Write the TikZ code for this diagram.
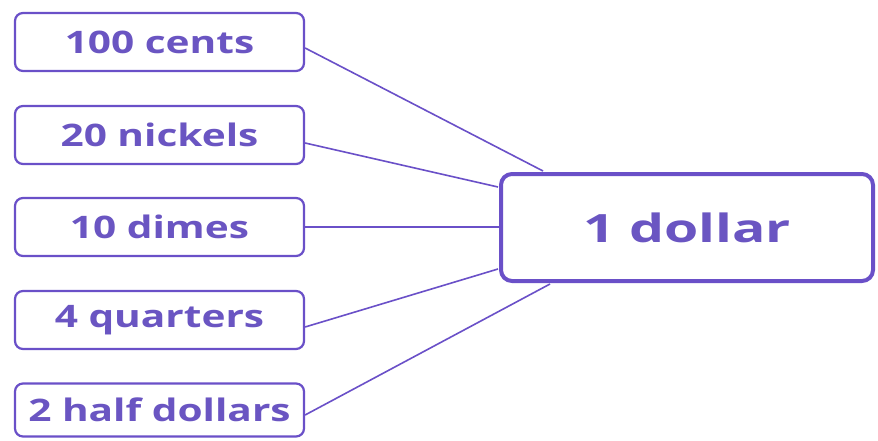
\documentclass[tikz,border=0pt]{standalone}
\usepackage{fontspec}
\setmainfont{Open Sans}
\newfontfamily\smallfont[FakeStretch=1.31]{Open Sans}
\newfontfamily\bigfont[FakeStretch=1.42]{Open Sans}
\usetikzlibrary{calc}
\definecolor{edgepurple}{HTML}{6A50C8}
\definecolor{textpurple}{HTML}{6A55C2}
\tikzset{
  smallbox/.style={draw=edgepurple, line width=2.2pt, rounded corners=8pt, fill=white,
    minimum width=289pt, minimum height=58pt, inner sep=0pt,
    text=textpurple, font=\smallfont\fontsize{31}{34}\selectfont\bfseries},
  bigbox/.style={draw=edgepurple, line width=4pt, rounded corners=11pt, fill=white,
    minimum width=372pt, minimum height=107pt, inner sep=0pt,
    text=textpurple, font=\bigfont\fontsize{39}{42}\selectfont\bfseries},
  link/.style={draw=edgepurple, line width=1.6pt}
}
\begin{document}
\begin{tikzpicture}[x=1pt,y=-1pt]
\useasboundingbox[fill=white] (0,0) rectangle (878,441);
\node[smallbox] (c1) at (159.5,42) {100 cents};
\node[smallbox] (c2) at (159.5,135) {20 nickels};
\node[smallbox] (c3) at (159.5,227) {10 dimes};
\node[smallbox] (c4) at (159.5,320) {4 quarters};
\node[smallbox, minimum height=53pt] (c5) at (159.5,410) {2 half dollars};
\node[bigbox] (big) at (687,227.5) {1 dollar};
\draw[link] ($(c1.east)+(0,6)$) -- ($(big.north west)+(44,-1)$);
\draw[link] ($(c2.east)+(0,8)$) -- ($(big.north west)+(-1,15)$);
\draw[link] (c3.east) -- (c3.east -| big.west);
\draw[link] ($(c4.east)+(0,7)$) -- ($(big.south west)+(-1,-14)$);
\draw[link] ($(c5.east)+(0,5)$) -- ($(big.south west)+(51,1)$);
\end{tikzpicture}
\end{document}
